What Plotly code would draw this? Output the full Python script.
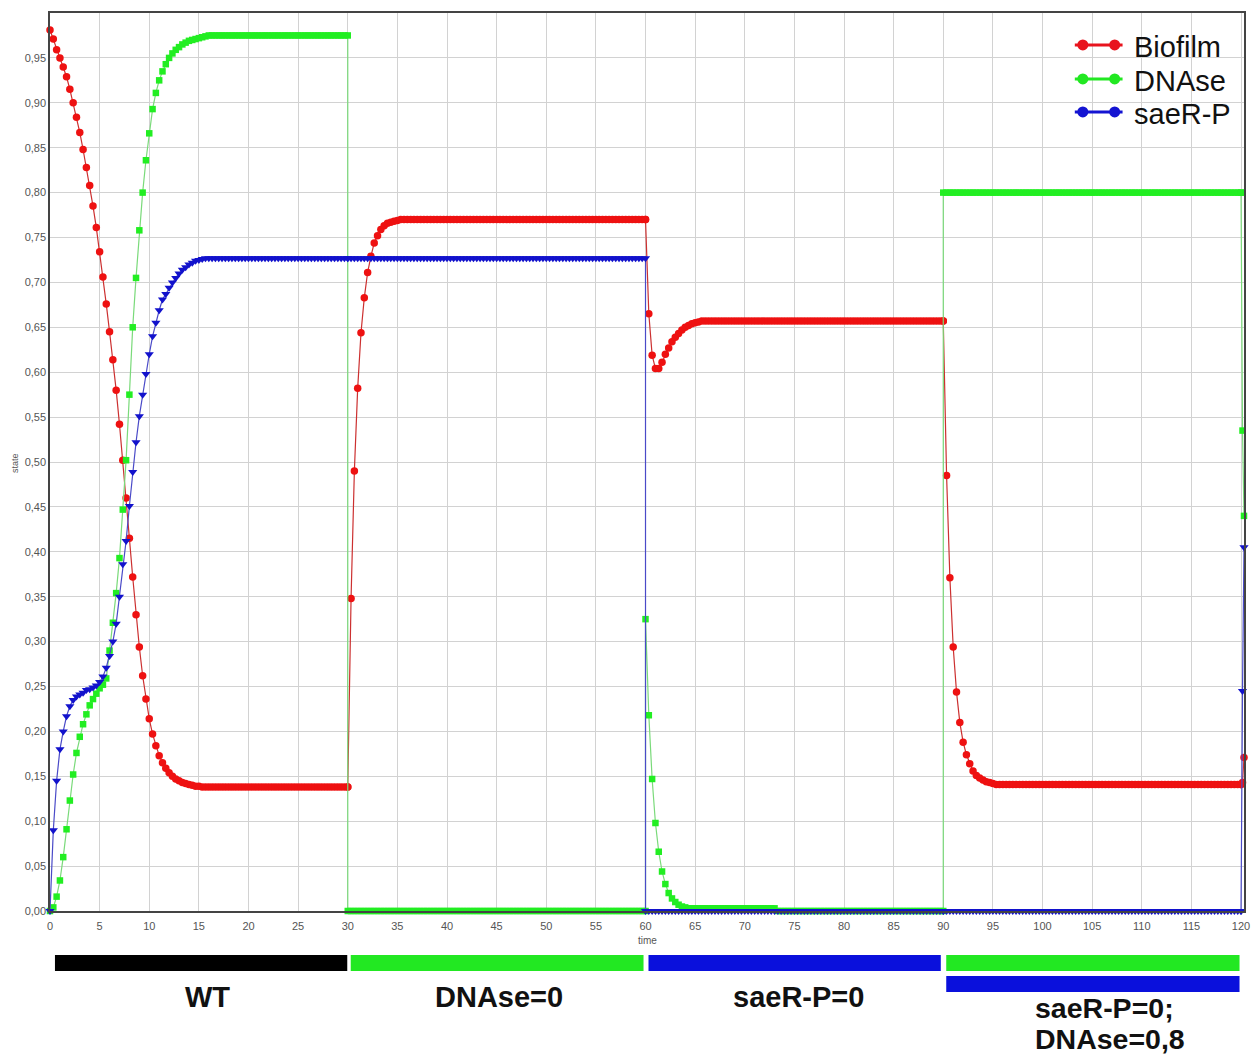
import plotly.graph_objects as go

# ---------------- data ----------------
STEP = 1 / 3                      # simulation time step
segment_starts = [0, 30, 60, 90]  # start time of each simulated condition
time_tail = [120.0, 120.15, 120.3]

# Segment 1: WT (t = 0 .. 30)
biofilm_wt = [
    0.981, 0.971, 0.959, 0.950, 0.940, 0.929, 0.915, 0.900, 0.884, 0.867,
    0.848, 0.828, 0.808, 0.785, 0.761, 0.734, 0.706, 0.676, 0.645, 0.614,
    0.580, 0.542, 0.502, 0.460, 0.415, 0.372, 0.330, 0.294, 0.262, 0.236,
    0.214, 0.197, 0.184, 0.173, 0.165, 0.159, 0.154, 0.150, 0.147, 0.145,
    0.143, 0.142, 0.141, 0.140, 0.139, 0.139, 0.138, 0.138, 0.138, 0.138,
    0.138, 0.138, 0.138, 0.138, 0.138, 0.138, 0.138, 0.138, 0.138, 0.138,
    0.138, 0.138, 0.138, 0.138, 0.138, 0.138, 0.138, 0.138, 0.138, 0.138,
    0.138, 0.138, 0.138, 0.138, 0.138, 0.138, 0.138, 0.138, 0.138, 0.138,
    0.138, 0.138, 0.138, 0.138, 0.138, 0.138, 0.138, 0.138, 0.138, 0.138,
    0.138,
]
dnase_wt = [
    0.000, 0.004, 0.016, 0.034, 0.060, 0.091, 0.123, 0.152, 0.176, 0.194,
    0.208, 0.219, 0.229, 0.236, 0.242, 0.248, 0.252, 0.259, 0.290, 0.321,
    0.354, 0.393, 0.447, 0.502, 0.575, 0.650, 0.705, 0.758, 0.800, 0.836,
    0.866, 0.893, 0.911, 0.925, 0.935, 0.943, 0.950, 0.955, 0.959, 0.962,
    0.965, 0.967, 0.969, 0.970, 0.971, 0.972, 0.973, 0.974, 0.975, 0.975,
    0.975, 0.975, 0.975, 0.975, 0.975, 0.975, 0.975, 0.975, 0.975, 0.975,
    0.975, 0.975, 0.975, 0.975, 0.975, 0.975, 0.975, 0.975, 0.975, 0.975,
    0.975, 0.975, 0.975, 0.975, 0.975, 0.975, 0.975, 0.975, 0.975, 0.975,
    0.975, 0.975, 0.975, 0.975, 0.975, 0.975, 0.975, 0.975, 0.975, 0.975,
    0.975,
]
saer_wt = [
    0.000, 0.090, 0.145, 0.180, 0.200, 0.217, 0.228, 0.235, 0.239, 0.241,
    0.243, 0.246, 0.247, 0.249, 0.251, 0.255, 0.261, 0.271, 0.284, 0.300,
    0.320, 0.350, 0.386, 0.412, 0.451, 0.489, 0.522, 0.551, 0.575, 0.598,
    0.620, 0.640, 0.655, 0.669, 0.681, 0.687, 0.694, 0.700, 0.705, 0.710,
    0.714, 0.717, 0.720, 0.722, 0.724, 0.725, 0.726, 0.727, 0.727, 0.727,
    0.727, 0.727, 0.727, 0.727, 0.727, 0.727, 0.727, 0.727, 0.727, 0.727,
    0.727, 0.727, 0.727, 0.727, 0.727, 0.727, 0.727, 0.727, 0.727, 0.727,
    0.727, 0.727, 0.727, 0.727, 0.727, 0.727, 0.727, 0.727, 0.727, 0.727,
    0.727, 0.727, 0.727, 0.727, 0.727, 0.727, 0.727, 0.727, 0.727, 0.727,
    0.727,
]

# Segment 2: DNAse = 0 (t = 30 .. 60)
biofilm_dnase0 = [
    0.138, 0.348, 0.490, 0.582, 0.644, 0.683, 0.711, 0.729, 0.744, 0.752,
    0.759, 0.763, 0.766, 0.767, 0.768, 0.769, 0.770, 0.770, 0.770, 0.770,
    0.770, 0.770, 0.770, 0.770, 0.770, 0.770, 0.770, 0.770, 0.770, 0.770,
    0.770, 0.770, 0.770, 0.770, 0.770, 0.770, 0.770, 0.770, 0.770, 0.770,
    0.770, 0.770, 0.770, 0.770, 0.770, 0.770, 0.770, 0.770, 0.770, 0.770,
    0.770, 0.770, 0.770, 0.770, 0.770, 0.770, 0.770, 0.770, 0.770, 0.770,
    0.770, 0.770, 0.770, 0.770, 0.770, 0.770, 0.770, 0.770, 0.770, 0.770,
    0.770, 0.770, 0.770, 0.770, 0.770, 0.770, 0.770, 0.770, 0.770, 0.770,
    0.770, 0.770, 0.770, 0.770, 0.770, 0.770, 0.770, 0.770, 0.770, 0.770,
    0.770,
]
dnase_dnase0 = [
    0.000, 0.000, 0.000, 0.000, 0.000, 0.000, 0.000, 0.000, 0.000, 0.000,
    0.000, 0.000, 0.000, 0.000, 0.000, 0.000, 0.000, 0.000, 0.000, 0.000,
    0.000, 0.000, 0.000, 0.000, 0.000, 0.000, 0.000, 0.000, 0.000, 0.000,
    0.000, 0.000, 0.000, 0.000, 0.000, 0.000, 0.000, 0.000, 0.000, 0.000,
    0.000, 0.000, 0.000, 0.000, 0.000, 0.000, 0.000, 0.000, 0.000, 0.000,
    0.000, 0.000, 0.000, 0.000, 0.000, 0.000, 0.000, 0.000, 0.000, 0.000,
    0.000, 0.000, 0.000, 0.000, 0.000, 0.000, 0.000, 0.000, 0.000, 0.000,
    0.000, 0.000, 0.000, 0.000, 0.000, 0.000, 0.000, 0.000, 0.000, 0.000,
    0.000, 0.000, 0.000, 0.000, 0.000, 0.000, 0.000, 0.000, 0.000, 0.000,
    0.000,
]
saer_dnase0 = [
    0.727, 0.727, 0.727, 0.727, 0.727, 0.727, 0.727, 0.727, 0.727, 0.727,
    0.727, 0.727, 0.727, 0.727, 0.727, 0.727, 0.727, 0.727, 0.727, 0.727,
    0.727, 0.727, 0.727, 0.727, 0.727, 0.727, 0.727, 0.727, 0.727, 0.727,
    0.727, 0.727, 0.727, 0.727, 0.727, 0.727, 0.727, 0.727, 0.727, 0.727,
    0.727, 0.727, 0.727, 0.727, 0.727, 0.727, 0.727, 0.727, 0.727, 0.727,
    0.727, 0.727, 0.727, 0.727, 0.727, 0.727, 0.727, 0.727, 0.727, 0.727,
    0.727, 0.727, 0.727, 0.727, 0.727, 0.727, 0.727, 0.727, 0.727, 0.727,
    0.727, 0.727, 0.727, 0.727, 0.727, 0.727, 0.727, 0.727, 0.727, 0.727,
    0.727, 0.727, 0.727, 0.727, 0.727, 0.727, 0.727, 0.727, 0.727, 0.727,
    0.727,
]

# Segment 3: saeR-P = 0 (t = 60 .. 90)
biofilm_saer0 = [
    0.770, 0.665, 0.619, 0.604, 0.604, 0.611, 0.620, 0.627, 0.634, 0.639,
    0.643, 0.647, 0.650, 0.652, 0.654, 0.655, 0.656, 0.657, 0.657, 0.657,
    0.657, 0.657, 0.657, 0.657, 0.657, 0.657, 0.657, 0.657, 0.657, 0.657,
    0.657, 0.657, 0.657, 0.657, 0.657, 0.657, 0.657, 0.657, 0.657, 0.657,
    0.657, 0.657, 0.657, 0.657, 0.657, 0.657, 0.657, 0.657, 0.657, 0.657,
    0.657, 0.657, 0.657, 0.657, 0.657, 0.657, 0.657, 0.657, 0.657, 0.657,
    0.657, 0.657, 0.657, 0.657, 0.657, 0.657, 0.657, 0.657, 0.657, 0.657,
    0.657, 0.657, 0.657, 0.657, 0.657, 0.657, 0.657, 0.657, 0.657, 0.657,
    0.657, 0.657, 0.657, 0.657, 0.657, 0.657, 0.657, 0.657, 0.657, 0.657,
    0.657,
]
dnase_saer0 = [
    0.325, 0.218, 0.147, 0.098, 0.066, 0.044, 0.030, 0.020, 0.014, 0.010,
    0.007, 0.005, 0.004, 0.003, 0.003, 0.003, 0.003, 0.003, 0.003, 0.003,
    0.003, 0.003, 0.003, 0.003, 0.003, 0.003, 0.003, 0.003, 0.003, 0.003,
    0.003, 0.003, 0.003, 0.003, 0.003, 0.003, 0.003, 0.003, 0.003, 0.003,
    0.000, 0.000, 0.000, 0.000, 0.000, 0.000, 0.000, 0.000, 0.000, 0.000,
    0.000, 0.000, 0.000, 0.000, 0.000, 0.000, 0.000, 0.000, 0.000, 0.000,
    0.000, 0.000, 0.000, 0.000, 0.000, 0.000, 0.000, 0.000, 0.000, 0.000,
    0.000, 0.000, 0.000, 0.000, 0.000, 0.000, 0.000, 0.000, 0.000, 0.000,
    0.000, 0.000, 0.000, 0.000, 0.000, 0.000, 0.000, 0.000, 0.000, 0.000,
    0.000,
]
saer_saer0 = [
    0.000, 0.000, 0.000, 0.000, 0.000, 0.000, 0.000, 0.000, 0.000, 0.000,
    0.000, 0.000, 0.000, 0.000, 0.000, 0.000, 0.000, 0.000, 0.000, 0.000,
    0.000, 0.000, 0.000, 0.000, 0.000, 0.000, 0.000, 0.000, 0.000, 0.000,
    0.000, 0.000, 0.000, 0.000, 0.000, 0.000, 0.000, 0.000, 0.000, 0.000,
    0.000, 0.000, 0.000, 0.000, 0.000, 0.000, 0.000, 0.000, 0.000, 0.000,
    0.000, 0.000, 0.000, 0.000, 0.000, 0.000, 0.000, 0.000, 0.000, 0.000,
    0.000, 0.000, 0.000, 0.000, 0.000, 0.000, 0.000, 0.000, 0.000, 0.000,
    0.000, 0.000, 0.000, 0.000, 0.000, 0.000, 0.000, 0.000, 0.000, 0.000,
    0.000, 0.000, 0.000, 0.000, 0.000, 0.000, 0.000, 0.000, 0.000, 0.000,
    0.000,
]

# Segment 4: saeR-P = 0; DNAse = 0,8 (t = 90 .. 120)
biofilm_both = [
    0.657, 0.485, 0.371, 0.294, 0.244, 0.210, 0.188, 0.174, 0.164, 0.156,
    0.151, 0.148, 0.146, 0.144, 0.143, 0.142, 0.141, 0.141, 0.141, 0.141,
    0.141, 0.141, 0.141, 0.141, 0.141, 0.141, 0.141, 0.141, 0.141, 0.141,
    0.141, 0.141, 0.141, 0.141, 0.141, 0.141, 0.141, 0.141, 0.141, 0.141,
    0.141, 0.141, 0.141, 0.141, 0.141, 0.141, 0.141, 0.141, 0.141, 0.141,
    0.141, 0.141, 0.141, 0.141, 0.141, 0.141, 0.141, 0.141, 0.141, 0.141,
    0.141, 0.141, 0.141, 0.141, 0.141, 0.141, 0.141, 0.141, 0.141, 0.141,
    0.141, 0.141, 0.141, 0.141, 0.141, 0.141, 0.141, 0.141, 0.141, 0.141,
    0.141, 0.141, 0.141, 0.141, 0.141, 0.141, 0.141, 0.141, 0.141, 0.141,
    0.141,
]
dnase_both = [
    0.800, 0.800, 0.800, 0.800, 0.800, 0.800, 0.800, 0.800, 0.800, 0.800,
    0.800, 0.800, 0.800, 0.800, 0.800, 0.800, 0.800, 0.800, 0.800, 0.800,
    0.800, 0.800, 0.800, 0.800, 0.800, 0.800, 0.800, 0.800, 0.800, 0.800,
    0.800, 0.800, 0.800, 0.800, 0.800, 0.800, 0.800, 0.800, 0.800, 0.800,
    0.800, 0.800, 0.800, 0.800, 0.800, 0.800, 0.800, 0.800, 0.800, 0.800,
    0.800, 0.800, 0.800, 0.800, 0.800, 0.800, 0.800, 0.800, 0.800, 0.800,
    0.800, 0.800, 0.800, 0.800, 0.800, 0.800, 0.800, 0.800, 0.800, 0.800,
    0.800, 0.800, 0.800, 0.800, 0.800, 0.800, 0.800, 0.800, 0.800, 0.800,
    0.800, 0.800, 0.800, 0.800, 0.800, 0.800, 0.800, 0.800, 0.800, 0.800,
    0.800,
]
saer_both = list(saer_saer0)

# Tail: back to WT right after t = 120
biofilm_tail = [0.141, 0.143, 0.171]
dnase_tail = [0.800, 0.535, 0.440]
saer_tail = [0.000, 0.245, 0.405]

# Axis ticks, series names and condition labels
x_ticks = list(range(0, 121, 5))
y_ticks = [i / 20 for i in range(20)]
y_ticktext = [f"{v:.2f}".replace(".", ",") for v in y_ticks]
series_names = ["Biofilm", "DNAse", "saeR-P"]

# ---------------- assemble series ----------------
bio_segs = [biofilm_wt, biofilm_dnase0, biofilm_saer0, biofilm_both]
dna_segs = [dnase_wt, dnase_dnase0, dnase_saer0, dnase_both]
sae_segs = [saer_wt, saer_dnase0, saer_saer0, saer_both]

time = []
for start, seg in zip(segment_starts, bio_segs):
    time += [start + j * STEP for j in range(len(seg))]
time += time_tail

biofilm = sum(bio_segs, []) + biofilm_tail
dnase = sum(dna_segs, []) + dnase_tail
saer = sum(sae_segs, []) + saer_tail

RED, GREEN, BLUE = "#ee1111", "#22ee22", "#1212cc"
RED_L, GREEN_L, BLUE_L = "#cc3030", "#7ada7a", "#4a4ac8"

fig = go.Figure()
fig.add_trace(go.Scatter(x=time, y=biofilm, mode="lines+markers", name="Biofilm",
                         line=dict(color=RED_L, width=1.2),
                         marker=dict(symbol="circle", size=7.5, color=RED),
                         showlegend=False, cliponaxis=False))
fig.add_trace(go.Scatter(x=time, y=dnase, mode="lines+markers", name="DNAse",
                         line=dict(color=GREEN_L, width=1.2),
                         marker=dict(symbol="square", size=6.5, color=GREEN),
                         showlegend=False, cliponaxis=False))
fig.add_trace(go.Scatter(x=time, y=saer, mode="lines+markers", name="saeR-P",
                         line=dict(color=BLUE_L, width=1.2),
                         marker=dict(symbol="triangle-down", size=8, color=BLUE),
                         showlegend=False, cliponaxis=False))

# ---------------- decorations ----------------
shapes = []
annotations = []

# condition bars under the chart
bars = [
    (0.5, 29.95, -0.049, -0.0668, "#000000"),
    (30.3, 59.8, -0.049, -0.0668, "#22e822"),
    (60.3, 89.75, -0.049, -0.0668, "#0a10dc"),
    (90.3, 119.85, -0.049, -0.0668, "#22e822"),
    (90.3, 119.85, -0.0724, -0.0902, "#0a10dc"),
]
for a, b, c, d, col in bars:
    shapes.append(dict(type="rect", xref="x", yref="paper", x0=a, x1=b, y0=c, y1=d,
                       fillcolor=col, line=dict(width=0), layer="above"))

for txt, x, y, xa, fs in [("<b>WT</b>", 15.9, -0.0958, "center", 29),
                          ("<b>DNAse=0</b>", 45.2, -0.0958, "center", 29),
                          ("<b>saeR-P=0</b>", 75.4, -0.0958, "center", 29),
                          ("<b>saeR-P=0;</b>", 99.0, -0.1085, "left", 28.5),
                          ("<b>DNAse=0,8</b>", 99.0, -0.1430, "left", 28.5)]:
    annotations.append(dict(text=txt, x=x, y=y, xref="x", yref="paper", xanchor=xa,
                            yanchor="middle", showarrow=False,
                            font=dict(family="Liberation Sans, Arial, sans-serif",
                                      size=fs, color="#111111")))

small = dict(family="Liberation Sans, Arial", color="#555555")
annotations.append(dict(text="time", x=0.5, y=-0.0323, xref="paper", yref="paper",
                        xanchor="center", yanchor="middle", showarrow=False,
                        font=dict(size=10, **small)))
annotations.append(dict(text="state", x=-0.0292, y=0.499, xref="paper", yref="paper",
                        xanchor="center", yanchor="middle", showarrow=False, textangle=-90,
                        font=dict(size=9, **small)))

# legend drawn like the original: a line with two round markers per entry
leg_cols = ["#e8141e", "#22e822", "#1414d2"]
leg_rows = [0.9645, 0.9266, 0.8898]
for nm, col, yr in zip(series_names, leg_cols, leg_rows):
    shapes.append(dict(type="line", xref="paper", yref="paper", x0=0.8583, x1=0.8983,
                       y0=yr, y1=yr, line=dict(color=col, width=3), layer="above"))
    for xm in (0.865, 0.8917):
        shapes.append(dict(type="circle", xref="paper", yref="paper",
                           xsizemode="pixel", ysizemode="pixel", xanchor=xm, yanchor=yr,
                           x0=-5.5, x1=5.5, y0=-5.5, y1=5.5,
                           fillcolor=col, line=dict(width=0), layer="above"))
    annotations.append(dict(text=nm, x=0.9065, y=yr - 0.0022, xref="paper", yref="paper",
                            xanchor="left", yanchor="middle", showarrow=False,
                            font=dict(family="Liberation Sans, Arial", size=29,
                                      color="#111111")))

axis_common = dict(showgrid=True, gridcolor="#d2d2d2", gridwidth=1, zeroline=False,
                   showline=True, linecolor="#444444", linewidth=1.5, mirror=True,
                   tickfont=dict(family="Liberation Sans, Arial", size=11, color="#555555"))

fig.update_layout(
    width=1258, height=1054,
    margin=dict(l=50, r=8, t=13, b=143),
    paper_bgcolor="white", plot_bgcolor="white",
    showlegend=False,
    xaxis=dict(range=[0, 120.3], tickvals=x_ticks, ticks="outside", ticklen=4,
               tickcolor="rgba(0,0,0,0)", **axis_common),
    yaxis=dict(range=[0, 1.0], tickvals=y_ticks, ticktext=y_ticktext, ticks="",
               **axis_common),
    shapes=shapes, annotations=annotations,
)

# remove the default page margin so the figure fills the window exactly
fig.write_html(
    "out.html",
    config={"displayModeBar": False},
    post_script="document.body.style.margin='0px';document.body.style.overflow='hidden';",
)
